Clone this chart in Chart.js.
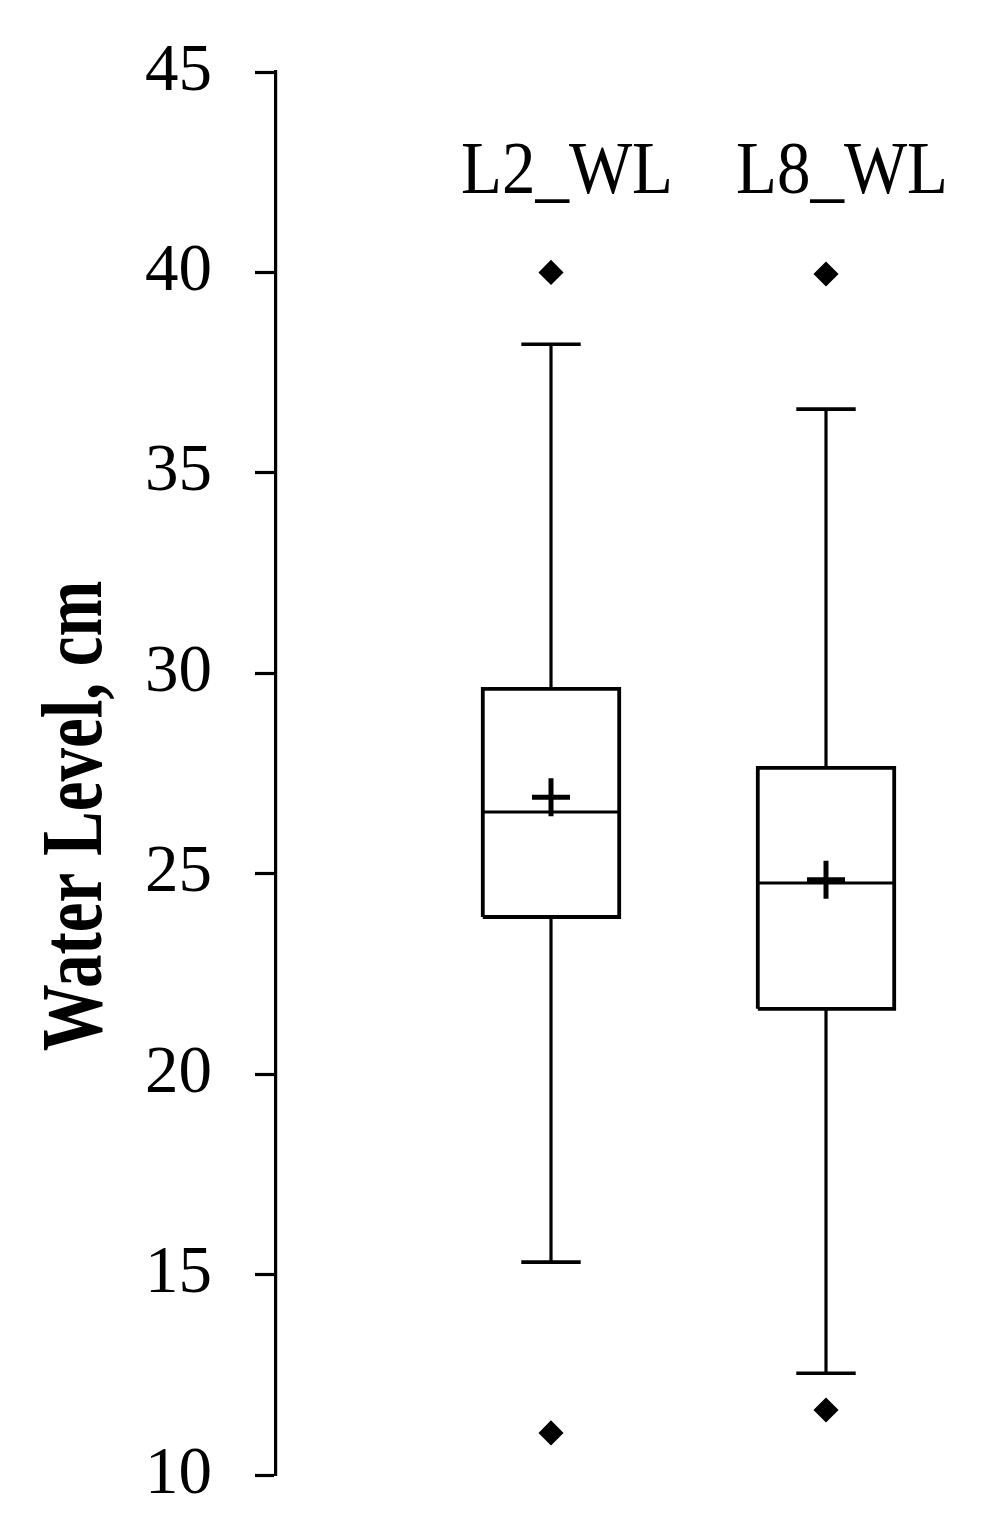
<!DOCTYPE html>
<html>
<head>
<meta charset="utf-8">
<script src="https://cdn.jsdelivr.net/npm/chart.js@4.4.1/dist/chart.umd.min.js"></script>
<style>
  html, body { margin: 0; padding: 0; background: #ffffff; }
  #wrap { width: 989px; height: 1535px; position: relative; }
</style>
</head>
<body>
<div id="wrap"><canvas id="c"></canvas></div>
<script>
// ---- data ----
const categories = ['L2_WL', 'L8_WL'];
const whiskerLow  = [15.31, 12.54];
const q1Values    = [23.92, 21.63];
const medians     = [26.54, 24.77];
const q3Values    = [29.61, 27.64];
const whiskerHigh = [38.21, 36.59];
const means       = [26.91, 24.85];
const outliers    = [[40.0, 11.05], [39.96, 11.62]];
const yTicks      = [10, 15, 20, 25, 30, 35, 40, 45];
const yAxisTitle  = 'Water Level, cm';

// ---- style constants ----
const BOX_HALF = 0.248;
const CAP_HALF = 0.108;
const LINE_W = 3.2;
const FONT = '"Liberation Serif", "Times New Roman", serif';

function lineDs(points, width) {
  return {
    type: 'scatter', data: points, showLine: true,
    borderColor: '#000', borderWidth: width || LINE_W,
    pointRadius: 0, pointHoverRadius: 0, fill: false,
    borderJoinStyle: 'miter', borderCapStyle: 'butt', tension: 0
  };
}

const datasets = [];
categories.forEach((c, i) => {
  const x = i + 1;
  // whiskers
  datasets.push(lineDs([{x, y: q3Values[i]}, {x, y: whiskerHigh[i]}]));
  datasets.push(lineDs([{x, y: q1Values[i]}, {x, y: whiskerLow[i]}]));
  // caps
  datasets.push(lineDs([{x: x - CAP_HALF, y: whiskerHigh[i]}, {x: x + CAP_HALF, y: whiskerHigh[i]}], 3.6));
  datasets.push(lineDs([{x: x - CAP_HALF, y: whiskerLow[i]}, {x: x + CAP_HALF, y: whiskerLow[i]}], 3.6));
  // box
  datasets.push(lineDs([
    {x: x - BOX_HALF, y: q1Values[i]}, {x: x + BOX_HALF, y: q1Values[i]},
    {x: x + BOX_HALF, y: q3Values[i]}, {x: x - BOX_HALF, y: q3Values[i]},
    {x: x - BOX_HALF, y: q1Values[i]}
  ], 3.8));
  // median
  datasets.push(lineDs([{x: x - BOX_HALF, y: medians[i]}, {x: x + BOX_HALF, y: medians[i]}], 3));
});
// means
datasets.push({
  type: 'scatter',
  data: means.map((m, i) => ({x: i + 1, y: m})),
  pointStyle: 'cross', pointRadius: 19, pointHoverRadius: 19,
  borderColor: '#000', borderWidth: 5, backgroundColor: '#000'
});
// outliers
datasets.push({
  type: 'scatter',
  data: outliers.flatMap((arr, i) => arr.map(v => ({x: i + 1, y: v}))),
  pointStyle: 'rectRot', pointRadius: 11.5, pointHoverRadius: 11.5,
  borderColor: '#000', borderWidth: 1.5, backgroundColor: '#000'
});

const textPlugin = {
  id: 'texts',
  afterDraw(chart) {
    const ctx = chart.ctx;
    const xs = chart.scales.x;
    const area = chart.chartArea;
    // category labels at top inside plot area
    ctx.save();
    ctx.fillStyle = '#000';
    ctx.font = '67px ' + FONT;
    ctx.textAlign = 'center';
    ctx.textBaseline = 'alphabetic';
    categories.forEach((c, i) => {
      const px = xs.getPixelForValue(i + 1) + 16;
      ctx.save();
      ctx.translate(px, area.top + 121);
      ctx.scale(1, 1.09);
      ctx.fillText(c, 0, 0);
      ctx.restore();
    });
    ctx.restore();
    // y axis title
    ctx.save();
    ctx.fillStyle = '#000';
    ctx.font = 'bold 67px ' + FONT;
    ctx.textAlign = 'center';
    ctx.textBaseline = 'alphabetic';
    ctx.translate(101, 816);
    ctx.rotate(-Math.PI / 2);
    ctx.scale(1, 1.3);
    ctx.fillText(yAxisTitle, 0, 0);
    ctx.restore();
  }
};

new Chart(document.getElementById('c'), {
  type: 'scatter',
  data: { datasets },
  options: {
    responsive: true,
    maintainAspectRatio: false,
    animation: false,
    events: [],
    layout: { padding: { top: 72, bottom: 60, left: 0, right: 25.5 } },
    plugins: { legend: { display: false }, tooltip: { enabled: false }, title: { display: false } },
    scales: {
      x: {
        type: 'linear', min: 0, max: 2.5, display: false
      },
      y: {
        type: 'linear', min: 10, max: 45,
        afterFit(s) { s.width = 276; s.paddingTop = 0; s.paddingBottom = 0; },
        afterBuildTicks(s) { s.ticks = yTicks.map(v => ({ value: v })); },
        ticks: {
          color: '#000', padding: 43,
          font: { family: FONT, size: 67 },
          callback: v => String(v)
        },
        grid: {
          display: true, drawOnChartArea: false, drawTicks: true,
          tickLength: 21, tickWidth: 3.2, tickColor: '#000'
        },
        border: { display: true, color: '#000', width: 3.2 }
      }
    }
  },
  plugins: [textPlugin]
});
</script>
</body>
</html>
